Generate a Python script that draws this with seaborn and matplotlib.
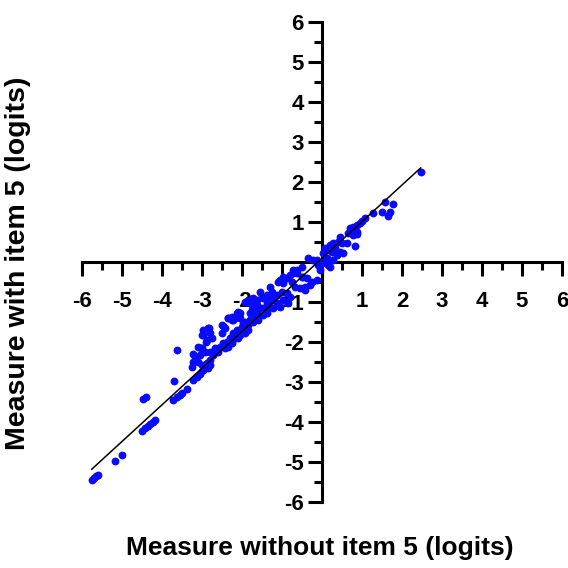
import matplotlib
matplotlib.use("Agg")
import matplotlib.pyplot as plt
import seaborn as sns
import pandas as pd
import numpy as np

# ---- data ----
x_without = [
    -5.76, -5.70, -5.64, -5.60, -5.18, -5.00,
    -4.47, -4.41, -4.51, -4.43, -4.36, -4.30, -4.23, -4.17,
    -3.70, -3.72, -3.63, -3.55, -3.51, -3.38, -3.62,
    -3.22, -3.13, -3.05, -2.97, -2.88, -2.80,
    -3.22, -3.26, -3.22,
    -3.03, -2.97, -2.90, -2.82, -2.80, -2.80,
    -2.51, -2.48, -2.34, -2.26, -2.05, -1.80, -1.97,
    -3.01, -2.97, -2.84, -2.76, -2.88,
    -3.09, -3.01, -3.05, -2.93,
    -2.51, -2.43, -2.34, -2.26, -2.18, -2.09,
    -1.93, -1.80, -1.72, -1.63, -1.51, -1.38, -1.26, -1.76, -1.63, -1.51,
    -2.68, -2.55, -2.47, -2.38, -2.30, -2.22, -2.13, -2.05, -1.97, -1.88,
    -1.80, -1.72, -1.63, -1.55, -1.43, -1.34,
    -2.59, -2.43, -2.34, -2.26, -2.09, -1.93, -1.84,
    -3.18, -3.09, -3.01, -2.88, -2.80, -2.72, -2.97, -2.84,
    -0.34, -0.22, -0.09, -0.01, -0.05,
    -0.72, -0.80, -0.63, -0.51, -0.38, -0.26, -0.13,
    -1.05, -1.09, -0.97, -0.88, -0.76, -0.68, -0.55, -0.43, -0.30,
    -1.30, -1.26, -1.13, -1.01, -0.88, -0.80, -0.97, -0.84,
    -1.55, -1.47, -1.38, -1.26, -1.13, -1.05, -1.22, -1.38,
    -1.84, -1.76, -1.63, -1.80, -1.68, -1.55, -1.47, -1.38,
    -2.13, -2.22, -2.05, -1.93, -1.97, -1.84, -1.72, -1.59,
    -2.22, -2.13, -2.01, -2.30, -2.18, -2.05,
    -0.97, -0.72, -0.63, -0.47, -0.43,
    1.58, 1.78, 1.49, 1.70, 1.66, 1.27,
    1.08, 0.99, 0.95, 0.87,
    0.78, 0.70, 0.83, 0.74, 0.87, 0.66, 0.78, 0.87,
    0.83,
    0.45, 0.41, 0.49, 0.62, 0.28, 0.20, 0.33, 0.45, 0.24, 0.12, 0.53, 0.37,
    0.08, 0.03, 0.12, 0.28, 0.20, 0.08,
    -0.13, -0.09, -0.51, 0.16,
    2.47,
]
y_with = [
    -5.45, -5.40, -5.36, -5.33, -4.97, -4.83,
    -3.43, -3.37, -4.23, -4.16, -4.10, -4.05, -3.99, -3.95,
    -2.97, -3.45, -3.38, -3.33, -3.28, -3.18, -2.20,
    -2.95, -2.87, -2.80, -2.70, -2.62, -2.58,
    -2.49, -2.62, -2.30,
    -2.16, -1.83, -1.99, -1.66, -1.78, -2.24,
    -1.78, -1.60, -1.41, -1.45, -1.28, -1.45, -1.53,
    -1.83, -1.70, -1.66, -1.91, -1.95,
    -2.12, -2.16, -2.33, -2.24,
    -1.58, -1.66, -1.41, -1.37, -1.41, -1.24,
    -0.99, -1.03, -0.91, -0.95, -0.87, -0.83, -0.74, -1.20, -1.24, -1.16,
    -2.16, -2.12, -2.03, -1.99, -1.91, -1.83, -1.78, -1.70, -1.62, -1.53,
    -1.45, -1.41, -1.37, -1.28, -1.24, -1.16,
    -2.24, -2.16, -2.12, -2.03, -1.91, -1.78, -1.70,
    -2.37, -2.49, -2.58, -2.53, -2.45, -2.33, -2.70, -2.66,
    0.09, 0.05, 0.01, -0.03, -0.20,
    -0.20, -0.33, -0.28, -0.37, -0.41, -0.49, -0.45,
    -0.45, -0.49, -0.53, -0.41, -0.49, -0.62, -0.66, -0.62, -0.58,
    -0.62, -0.78, -0.83, -0.74, -0.78, -0.87, -0.95, -1.03,
    -0.74, -0.91, -0.87, -0.95, -1.03, -1.12, -1.16, -1.03,
    -0.95, -1.08, -1.08, -1.28, -1.24, -1.20, -1.33, -1.28,
    -1.28, -1.45, -1.41, -1.49, -1.66, -1.58, -1.49, -1.45,
    -1.78, -1.70, -1.63, -1.95, -1.91, -1.83,
    -0.37, -0.28, -0.20, -0.37, -0.70,
    1.51, 1.45, 1.24, 1.26, 1.16, 1.23,
    1.09, 1.03, 0.97, 0.93,
    0.88, 0.84, 0.80, 0.76, 0.76, 0.72, 0.68, 0.70,
    0.41,
    0.63, 0.51, 0.47, 0.47, 0.47, 0.43, 0.34, 0.26, 0.26, 0.30, 0.22, 0.18,
    0.34, 0.22, 0.09, 0.05, -0.12, 0.01,
    0.05, -0.08, -0.12, -0.08,
    2.26,
]
fit_intercept = 0.093
fit_slope = 0.916

tick_values = [-6, -5, -4, -3, -2, -1, 0, 1, 2, 3, 4, 5, 6]
tick_labels = ["-6", "-5", "-4", "-3", "-2", "-1", "", "1", "2", "3", "4", "5", "6"]
minor_values = [-5.5, -4.5, -3.5, -2.5, -1.5, -0.5, 0.5, 1.5, 2.5, 3.5, 4.5, 5.5]

x_title = "Measure without item 5 (logits)"
y_title = "Measure with item 5 (logits)"

# ---- plot ----
sns.set_style("white")
plt.rcParams["font.family"] = ["Liberation Sans", "DejaVu Sans"]
plt.rcParams["font.weight"] = "bold"
plt.rcParams["text.color"] = "black"
plt.rcParams["axes.labelcolor"] = "black"
plt.rcParams["xtick.color"] = "black"
plt.rcParams["ytick.color"] = "black"

df = pd.DataFrame({"x": x_without, "y": y_with})

fig = plt.figure(figsize=(5.68, 5.68), dpi=100)
ax = fig.add_axes([82 / 568, 1 - 502 / 568, 480 / 568, 480 / 568])

sns.scatterplot(data=df, x="x", y="y", ax=ax, color="#0a0aff", s=32,
                linewidth=0, zorder=3)

xl = np.array([min(x_without), max(x_without)])
ax.plot(xl, fit_intercept + fit_slope * xl, color="black", lw=1.1, zorder=4)

ax.set_xlim(-6, 6)
ax.set_ylim(-6, 6)

for side in ["top", "right"]:
    ax.spines[side].set_visible(False)
ax.spines["left"].set_position(("data", 0))
ax.spines["bottom"].set_position(("data", 0))
for side in ["left", "bottom"]:
    ax.spines[side].set_linewidth(2.2)
    ax.spines[side].set_color("black")
    ax.spines[side].set_capstyle("projecting")

ax.set_xticks(tick_values)
ax.set_xticklabels(tick_labels)
ax.set_yticks(tick_values)
ax.set_yticklabels(tick_labels)
ax.set_xticks(minor_values, minor=True)
ax.set_yticks(minor_values, minor=True)

ax.tick_params(axis="both", which="both", bottom=True, left=True,
               top=False, right=False)
ax.tick_params(axis="both", which="major", direction="out", length=10,
               width=2.2, color="black", labelcolor="black", labelsize=16)
ax.tick_params(axis="both", which="minor", direction="out", length=6,
               width=2.2, color="black")
ax.tick_params(axis="x", which="major", pad=11)
ax.tick_params(axis="y", which="major", pad=3)
for lab in ax.get_xticklabels() + ax.get_yticklabels():
    lab.set_fontweight("bold")

ax.set_xlabel(x_title, fontsize=19, fontweight="bold", va="center", color="black")
ax.set_ylabel(y_title, fontsize=20.5, fontweight="bold", va="center", color="black")
ax.xaxis.set_label_coords(0.496, -0.096)
ax.yaxis.set_label_coords(-0.133, 0.498)

fig.savefig("out.png", dpi=100)
